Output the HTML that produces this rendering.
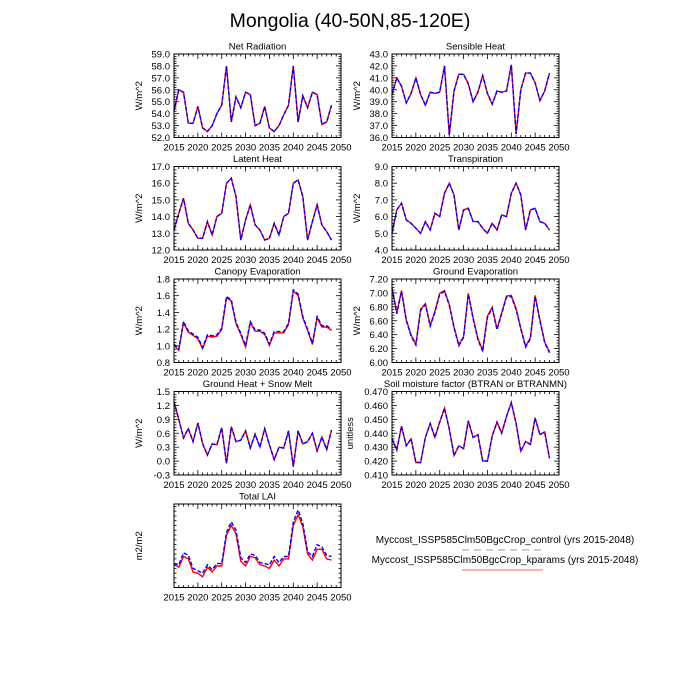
<!DOCTYPE html>
<html><head><meta charset="utf-8"><style>
body{margin:0;background:#fff;}
svg{display:block;font-family:"Liberation Sans",sans-serif;}
</style></head><body>
<svg id="s" width="700" height="700" xmlns="http://www.w3.org/2000/svg">
<rect width="700" height="700" fill="#fff"/>
<text x="350" y="27" text-anchor="middle" font-size="19.5">Mongolia (40-50N,85-120E)</text>
<g id="g"></g>
<text x="505" y="543" text-anchor="middle" font-size="10">Myccost_ISSP585Clm50BgcCrop_control (yrs 2015-2048)</text>
<line x1="462" y1="550" x2="543" y2="550" stroke="#aab" stroke-width="1.5" stroke-dasharray="7,5" opacity="0.8"/>
<text x="505" y="563" text-anchor="middle" font-size="10">Myccost_ISSP585Clm50BgcCrop_kparams (yrs 2015-2048)</text>
<line x1="462" y1="570" x2="543" y2="570" stroke="#f99" stroke-width="1.5"/>
</svg>
<script>
var P=[
{t:"Net Radiation",x:174,y:54,lo:52,hi:59,st:1,dec:1,yl:"W/m^2",
b:[54.2,56.0,55.8,53.2,53.2,54.6,52.8,52.5,53.0,54.0,54.7,58.0,53.3,55.4,54.5,55.8,55.6,53.0,53.2,54.6,52.8,52.5,53.0,53.9,54.7,58.0,53.3,55.5,54.5,55.8,55.6,53.1,53.3,54.7]},
{t:"Sensible Heat",x:392,y:54,lo:36,hi:43,st:1,dec:1,yl:"W/m^2",
b:[39.6,41.0,40.3,38.9,39.7,41.0,39.6,38.7,39.8,39.7,39.8,42.0,36.2,39.9,41.3,41.3,40.5,39.0,39.8,41.2,39.7,38.8,39.9,39.8,39.9,42.1,36.3,40.0,41.4,41.4,40.6,39.1,39.9,41.4]},
{t:"Latent Heat",x:174,y:166.5,lo:12,hi:17,st:1,dec:1,yl:"W/m^2",
b:[13.2,14.2,15.1,13.6,13.2,12.7,12.7,13.7,12.9,14.0,14.2,16.0,16.3,15.2,12.6,13.8,14.7,13.5,13.2,12.6,12.7,13.6,12.9,14.0,14.2,16.0,16.2,15.2,12.6,13.7,14.7,13.5,13.1,12.6]},
{t:"Transpiration",x:392,y:166.5,lo:4,hi:9,st:1,dec:1,yl:"W/m^2",
b:[5.0,6.4,6.8,5.8,5.6,5.3,5.0,5.7,5.2,6.2,6.0,7.4,8.0,7.3,5.2,6.4,6.5,5.7,5.7,5.3,5.0,5.6,5.2,6.1,6.0,7.4,8.0,7.3,5.2,6.4,6.5,5.7,5.6,5.2]},
{t:"Canopy Evaporation",x:174,y:279,lo:0.8,hi:1.8,st:0.2,dec:1,yl:"W/m^2",off:-0.015,
b:[1.02,0.96,1.29,1.18,1.14,1.10,0.98,1.13,1.12,1.13,1.21,1.59,1.55,1.28,1.15,1.00,1.29,1.19,1.19,1.15,1.02,1.17,1.17,1.17,1.27,1.67,1.62,1.35,1.20,1.03,1.35,1.24,1.24,1.20]},
{t:"Ground Evaporation",x:392,y:279,lo:6.0,hi:7.2,st:0.2,dec:2,yl:"W/m^2",off:0.015,
b:[7.06,6.70,7.02,6.60,6.38,6.25,6.75,6.83,6.52,6.72,6.98,7.02,6.82,6.50,6.24,6.36,6.98,6.63,6.33,6.16,6.65,6.78,6.47,6.70,6.94,6.95,6.76,6.48,6.22,6.34,6.95,6.60,6.28,6.14]},
{t:"Ground Heat + Snow Melt",x:174,y:391.5,lo:-0.3,hi:1.5,st:0.3,dec:1,yl:"W/m^2",
b:[1.28,0.90,0.50,0.70,0.42,0.82,0.38,0.13,0.37,0.35,0.72,-0.05,0.74,0.42,0.45,0.65,0.28,0.58,0.30,0.70,0.35,0.03,0.30,0.28,0.65,-0.12,0.65,0.37,0.42,0.60,0.22,0.52,0.25,0.67]},
{t:"Soil moisture factor (BTRAN or BTRANMN)",x:392,y:391.5,lo:0.41,hi:0.47,st:0.01,dec:3,yl:"unitless",
b:[0.436,0.428,0.445,0.431,0.436,0.419,0.419,0.437,0.447,0.437,0.448,0.458,0.443,0.424,0.431,0.429,0.449,0.437,0.439,0.420,0.420,0.438,0.448,0.440,0.452,0.462,0.447,0.427,0.434,0.432,0.451,0.439,0.441,0.422]},
{t:"Total LAI",x:174,y:504,lo:0.25,hi:0.60,st:0.1,t0:0.3,dec:2,yl:"m2/m2",
b:[0.35,0.345,0.395,0.385,0.33,0.32,0.31,0.345,0.325,0.35,0.35,0.48,0.525,0.49,0.375,0.355,0.39,0.385,0.355,0.35,0.345,0.38,0.355,0.38,0.38,0.525,0.575,0.52,0.40,0.38,0.43,0.42,0.385,0.38],
r:[0.345,0.335,0.38,0.37,0.315,0.31,0.295,0.335,0.315,0.34,0.34,0.47,0.51,0.475,0.36,0.34,0.38,0.375,0.345,0.34,0.33,0.365,0.34,0.37,0.37,0.51,0.555,0.505,0.39,0.365,0.41,0.41,0.37,0.365]}
];
var W=167,H=83.5,h="";
P.forEach(function(p){
 var X=function(yr){return p.x+(yr-2015)*W/35;};
 var Y=function(v){return p.y+H-(v-p.lo)/(p.hi-p.lo)*H;};
 h+='<text x="'+(p.x+W/2)+'" y="'+(p.y-4.5)+'" text-anchor="middle" font-size="9.5">'+p.t+'</text>';
 var rr=p.r||p.b.map(function(v){return v+(p.off||0);});
 var pr=rr.map(function(v,i){return X(2015+i).toFixed(1)+','+Y(v).toFixed(1);}).join(' ');
 var pb=p.b.map(function(v,i){return X(2015+i).toFixed(1)+','+Y(v).toFixed(1);}).join(' ');
 h+='<polyline points="'+pr+'" fill="none" stroke="#f00" stroke-width="1.4"/>';
 h+='<polyline points="'+pb+'" fill="none" stroke="#00f" stroke-width="1.4" stroke-dasharray="4,2"/>';
 h+='<rect x="'+p.x+'" y="'+p.y+'" width="'+W+'" height="'+H+'" fill="none" stroke="#000" stroke-width="1"/>';
 for(var yr=2015;yr<=2050;yr++){
  var xx=X(yr),L=(yr%5==0)?5:2.5;
  h+='<line x1="'+xx+'" y1="'+(p.y+H)+'" x2="'+xx+'" y2="'+(p.y+H-L)+'" stroke="#000" stroke-width="0.8"/>';
  h+='<line x1="'+xx+'" y1="'+p.y+'" x2="'+xx+'" y2="'+(p.y+L)+'" stroke="#000" stroke-width="0.8"/>';
  if(yr%5==0) h+='<text x="'+xx+'" y="'+(p.y+H+13)+'" text-anchor="middle" font-size="9.5">'+yr+'</text>';
 }
 var t0=(p.t0!==undefined)?p.t0:p.lo, mn=p.st/5;
 for(var v=p.lo;v<=p.hi+1e-9;v+=mn){
  var k=Math.round((v-t0)/p.st*1000)/1000, maj=Math.abs(k-Math.round(k))<1e-6;
  var yy=Y(v),L=maj?5:2.5;
  h+='<line x1="'+p.x+'" y1="'+yy+'" x2="'+(p.x+L)+'" y2="'+yy+'" stroke="#000" stroke-width="0.8"/>';
  h+='<line x1="'+(p.x+W)+'" y1="'+yy+'" x2="'+(p.x+W-L)+'" y2="'+yy+'" stroke="#000" stroke-width="0.8"/>';
  if(maj) h+='<text x="'+(p.x-4)+'" y="'+(yy+3.5)+'" text-anchor="end" font-size="9.5">'+v.toFixed(p.dec)+'</text>';
 }
 var lx=p.x-(p.dec==3?39:32), ly=p.y+H/2;
 h+='<text x="'+lx+'" y="'+ly+'" text-anchor="middle" font-size="9.5" transform="rotate(-90 '+lx+' '+ly+')">'+p.yl+'</text>';
});
document.getElementById("g").innerHTML=h;
</script>
</body></html>
